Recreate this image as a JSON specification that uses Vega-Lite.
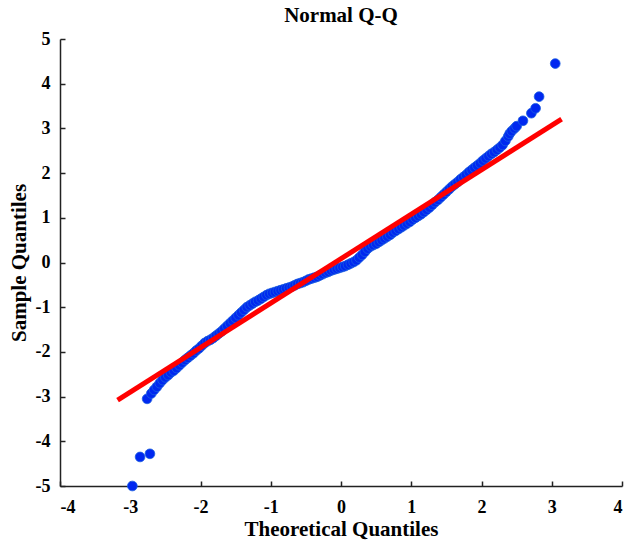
{
  "$schema": "https://vega.github.io/schema/vega-lite/v6.json",
  "width": 562,
  "height": 447,
  "autosize": {"type": "none"},
  "padding": {"left": 60, "top": 39, "right": 6, "bottom": 55},
  "background": "white",
  "config": {
    "view": {"stroke": null},
    "font": "Liberation Serif",
    "axis": {
      "grid": false,
      "domainColor": "#222222",
      "domainWidth": 1.5,
      "tickColor": "#222222",
      "tickWidth": 1.5,
      "tickSize": -5,
      "labelFont": "Liberation Serif",
      "labelFontWeight": "bold",
      "labelFontSize": 18,
      "labelColor": "black",
      "labelExpr": "toString(datum.value)",
      "titleFont": "Liberation Serif",
      "titleFontWeight": "bold",
      "titleFontSize": 21,
      "titleColor": "black"
    }
  },
  "title": {
    "text": "Normal Q-Q",
    "font": "Liberation Serif",
    "fontSize": 21,
    "fontWeight": "bold",
    "color": "black",
    "frame": "group",
    "anchor": "middle",
    "offset": 4
  },
  "datasets": {
    "pts": [
      {"t": -2.97, "s": -5.00}, {"t": -2.86, "s": -4.35}, {"t": -2.72, "s": -4.28},
      {"t": -2.76, "s": -3.05}, {"t": -2.70, "s": -2.93}, {"t": -2.66, "s": -2.85},
      {"t": -2.62, "s": -2.78}, {"t": -2.58, "s": -2.70}, {"t": -2.54, "s": -2.63},
      {"t": -2.50, "s": -2.57}, {"t": -2.46, "s": -2.52}, {"t": -2.42, "s": -2.46},
      {"t": -2.38, "s": -2.42}, {"t": -2.34, "s": -2.36}, {"t": -2.30, "s": -2.30},
      {"t": -2.26, "s": -2.24}, {"t": -2.22, "s": -2.18}, {"t": -2.18, "s": -2.13},
      {"t": -2.14, "s": -2.08}, {"t": -2.10, "s": -2.03}, {"t": -2.06, "s": -1.97},
      {"t": -2.02, "s": -1.92}, {"t": -1.98, "s": -1.86}, {"t": -1.94, "s": -1.80},
      {"t": -1.90, "s": -1.76}, {"t": -1.86, "s": -1.73}, {"t": -1.82, "s": -1.69},
      {"t": -1.78, "s": -1.64}, {"t": -1.74, "s": -1.59}, {"t": -1.70, "s": -1.54},
      {"t": -1.66, "s": -1.48}, {"t": -1.62, "s": -1.42}, {"t": -1.58, "s": -1.36},
      {"t": -1.54, "s": -1.30}, {"t": -1.50, "s": -1.24}, {"t": -1.46, "s": -1.18},
      {"t": -1.42, "s": -1.12}, {"t": -1.38, "s": -1.06}, {"t": -1.34, "s": -1.00},
      {"t": -1.30, "s": -0.96}, {"t": -1.26, "s": -0.92}, {"t": -1.22, "s": -0.88},
      {"t": -1.18, "s": -0.85}, {"t": -1.14, "s": -0.81}, {"t": -1.10, "s": -0.77},
      {"t": -1.06, "s": -0.73}, {"t": -1.02, "s": -0.70}, {"t": -0.98, "s": -0.68},
      {"t": -0.94, "s": -0.66}, {"t": -0.90, "s": -0.64}, {"t": -0.86, "s": -0.62},
      {"t": -0.82, "s": -0.60}, {"t": -0.78, "s": -0.58}, {"t": -0.74, "s": -0.56},
      {"t": -0.70, "s": -0.54}, {"t": -0.66, "s": -0.51}, {"t": -0.62, "s": -0.48},
      {"t": -0.58, "s": -0.46}, {"t": -0.54, "s": -0.44}, {"t": -0.50, "s": -0.41},
      {"t": -0.46, "s": -0.38}, {"t": -0.42, "s": -0.36}, {"t": -0.38, "s": -0.34},
      {"t": -0.34, "s": -0.32}, {"t": -0.30, "s": -0.29}, {"t": -0.26, "s": -0.26},
      {"t": -0.22, "s": -0.23}, {"t": -0.18, "s": -0.21}, {"t": -0.14, "s": -0.18},
      {"t": -0.10, "s": -0.16}, {"t": -0.06, "s": -0.14}, {"t": -0.02, "s": -0.12},
      {"t": 0.02, "s": -0.10}, {"t": 0.06, "s": -0.08}, {"t": 0.10, "s": -0.05},
      {"t": 0.14, "s": -0.02}, {"t": 0.18, "s": 0.01}, {"t": 0.22, "s": 0.05},
      {"t": 0.26, "s": 0.11}, {"t": 0.30, "s": 0.17}, {"t": 0.34, "s": 0.24},
      {"t": 0.38, "s": 0.31}, {"t": 0.42, "s": 0.36}, {"t": 0.46, "s": 0.39},
      {"t": 0.50, "s": 0.42}, {"t": 0.54, "s": 0.46}, {"t": 0.58, "s": 0.50},
      {"t": 0.62, "s": 0.54}, {"t": 0.66, "s": 0.58}, {"t": 0.70, "s": 0.62},
      {"t": 0.74, "s": 0.67}, {"t": 0.78, "s": 0.71}, {"t": 0.82, "s": 0.75},
      {"t": 0.86, "s": 0.79}, {"t": 0.90, "s": 0.83}, {"t": 0.94, "s": 0.87},
      {"t": 0.98, "s": 0.91}, {"t": 1.02, "s": 0.96}, {"t": 1.06, "s": 1.00},
      {"t": 1.10, "s": 1.04}, {"t": 1.14, "s": 1.08}, {"t": 1.18, "s": 1.13},
      {"t": 1.22, "s": 1.18}, {"t": 1.26, "s": 1.23}, {"t": 1.30, "s": 1.29},
      {"t": 1.34, "s": 1.35}, {"t": 1.38, "s": 1.40}, {"t": 1.42, "s": 1.46},
      {"t": 1.46, "s": 1.52}, {"t": 1.50, "s": 1.58}, {"t": 1.54, "s": 1.64},
      {"t": 1.58, "s": 1.70}, {"t": 1.62, "s": 1.75}, {"t": 1.66, "s": 1.80},
      {"t": 1.70, "s": 1.86}, {"t": 1.74, "s": 1.91}, {"t": 1.78, "s": 1.96},
      {"t": 1.82, "s": 2.02}, {"t": 1.86, "s": 2.07}, {"t": 1.90, "s": 2.12},
      {"t": 1.94, "s": 2.17}, {"t": 1.98, "s": 2.22}, {"t": 2.02, "s": 2.28},
      {"t": 2.06, "s": 2.33}, {"t": 2.10, "s": 2.38}, {"t": 2.14, "s": 2.43},
      {"t": 2.18, "s": 2.47}, {"t": 2.22, "s": 2.52}, {"t": 2.26, "s": 2.57},
      {"t": 2.30, "s": 2.63}, {"t": 2.34, "s": 2.72}, {"t": 2.38, "s": 2.82},
      {"t": 2.40, "s": 2.88}, {"t": 2.43, "s": 2.94}, {"t": 2.47, "s": 3.00},
      {"t": 2.50, "s": 3.05}, {"t": 2.59, "s": 3.17}, {"t": 2.71, "s": 3.34},
      {"t": 2.77, "s": 3.45}, {"t": 2.82, "s": 3.71}, {"t": 3.05, "s": 4.45}
    ],
    "ref": [
      {"t": -3.18, "s": -3.08},
      {"t": 3.14, "s": 3.21}
    ]
  },
  "encoding": {
    "x": {
      "field": "t", "type": "quantitative",
      "scale": {"domain": [-4, 4], "nice": false, "zero": false},
      "axis": {"title": "Theoretical Quantiles", "values": [-4, -3, -2, -1, 0, 1, 2, 3, 4], "labelPadding": 17, "titlePadding": 2}
    },
    "y": {
      "field": "s", "type": "quantitative",
      "scale": {"domain": [-5, 5], "nice": false, "zero": false},
      "axis": {"title": "Sample Quantiles", "values": [-5, -4, -3, -2, -1, 0, 1, 2, 3, 4, 5], "labelPadding": 15, "titlePadding": 6}
    }
  },
  "layer": [
    {
      "data": {"name": "pts"},
      "mark": {"type": "point", "shape": "circle", "filled": true, "size": 95, "fill": "#0028f0", "stroke": "#1a5ee0", "strokeWidth": 0.8, "opacity": 1, "clip": false}
    },
    {
      "data": {"name": "ref"},
      "mark": {"type": "line", "color": "#ff0000", "strokeWidth": 5, "strokeCap": "butt"}
    }
  ]
}
